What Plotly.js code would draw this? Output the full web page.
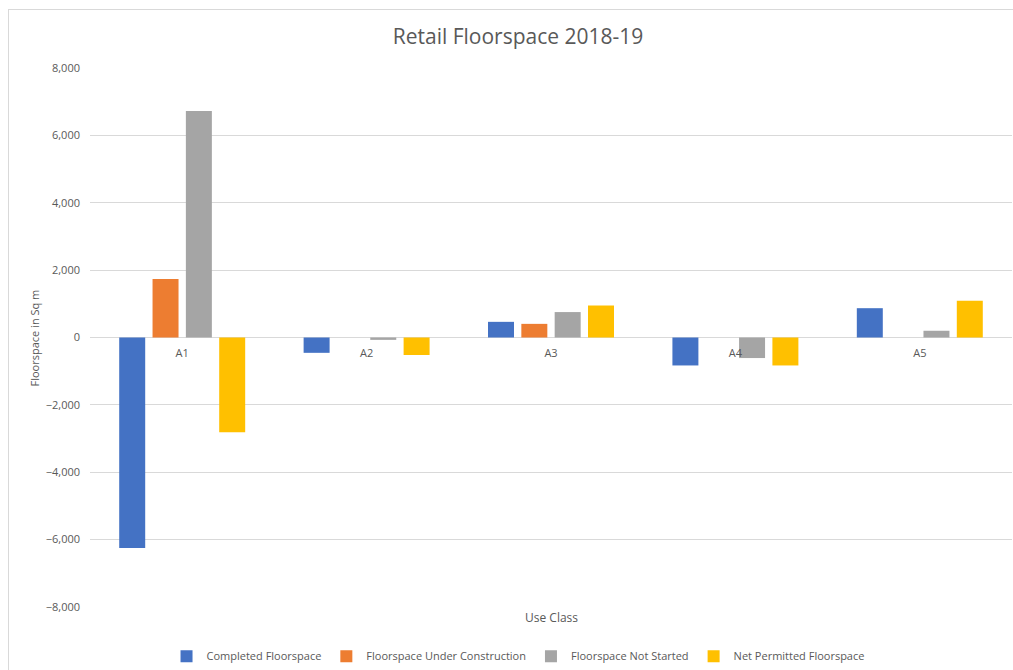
<!DOCTYPE html>
<html>
<head>
<meta charset="utf-8">
<script src="https://cdn.plot.ly/plotly-3.0.1.min.js"></script>
<style>
  html, body { margin: 0; padding: 0; background: #fff; overflow: hidden; }
  #frame {
    position: absolute; left: 8px; top: 9px;
    border-left: 1px solid #d9d9d9; border-top: 1px solid #d9d9d9;
  }
  #chart { width: 1004px; height: 660px; }
</style>
</head>
<body>
<div id="frame"><div id="chart"></div></div>
<script>
// 使用类别 (Use Class)
const useClasses = ['A1', 'A2', 'A3', 'A4', 'A5'];

// 各系列数值 (Sq m)
const completed         = [-6250, -455, 465, -830, 870];
const underConstruction = [1740, 0, 405, 0, 0];
const notStarted        = [6720, -70, 755, -610, 200];
const netPermitted      = [-2810, -520, 950, -830, 1090];

const seriesNames  = ['Completed Floorspace', 'Floorspace Under Construction', 'Floorspace Not Started', 'Net Permitted Floorspace'];
const seriesColors = ['#4472C4', '#ED7D31', '#A5A5A5', '#FFC000'];
const seriesValues = [completed, underConstruction, notStarted, netPermitted];

const yTicks = [-8000, -6000, -4000, -2000, 0, 2000, 4000, 6000, 8000];

const FONT = '"Open Sans", "Noto Sans", sans-serif';
const TEXT = '#595959';

const traces = seriesValues.map((vals, i) => ({
  type: 'bar',
  x: useClasses,
  y: vals,
  name: seriesNames[i],
  marker: { color: seriesColors[i], line: { width: 0 } },
  hoverinfo: 'skip'
}));

const layout = {
  width: 1004,
  height: 660,
  margin: { l: 81, r: 1, t: 58, b: 63 },
  paper_bgcolor: '#fff',
  plot_bgcolor: '#fff',
  font: { family: FONT, color: TEXT, size: 11 },
  barmode: 'group',
  bargap: 0.277,
  bargroupgap: 0.22,
  title: {
    text: 'Retail Floorspace 2018-19',
    font: { family: FONT, size: 21, color: TEXT },
    x: 0.507, xref: 'container', xanchor: 'center',
    y: 0.959, yref: 'container', yanchor: 'middle'
  },
  xaxis: {
    type: 'category',
    anchor: 'free',
    position: 0.5,
    showgrid: false,
    showline: false,
    zeroline: false,
    ticks: '',
    ticklabelstandoff: 7,
    tickfont: { family: FONT, size: 11, color: TEXT }
  },
  yaxis: {
    range: [-8000, 8000],
    tickvals: yTicks,
    tickformat: ',d',
    showgrid: true,
    gridcolor: '#d9d9d9',
    gridwidth: 1,
    zeroline: true,
    zerolinecolor: '#d9d9d9',
    zerolinewidth: 1,
    showline: false,
    ticks: '',
    ticklabelstandoff: 9,
    tickfont: { family: FONT, size: 11, color: TEXT }
  },
  showlegend: true,
  legend: {
    orientation: 'h',
    x: 0.507, xref: 'container', xanchor: 'center',
    y: 0.021, yref: 'container', yanchor: 'middle',
    font: { family: FONT, size: 11, color: TEXT },
    traceorder: 'normal'
  },
  annotations: [
    {
      text: 'Use Class', xref: 'paper', yref: 'paper',
      x: 0.5, y: -0.0204, xanchor: 'center', yanchor: 'middle',
      showarrow: false, font: { family: FONT, size: 12, color: TEXT }
    },
    {
      text: 'Floorspace in Sq m', xref: 'paper', yref: 'paper',
      x: -0.0597, y: 0.5, xanchor: 'center', yanchor: 'middle',
      textangle: -90, showarrow: false, font: { family: FONT, size: 11, color: TEXT }
    }
  ]
};

Plotly.newPlot('chart', traces, layout, { displayModeBar: false, staticPlot: true });
</script>
</body>
</html>
